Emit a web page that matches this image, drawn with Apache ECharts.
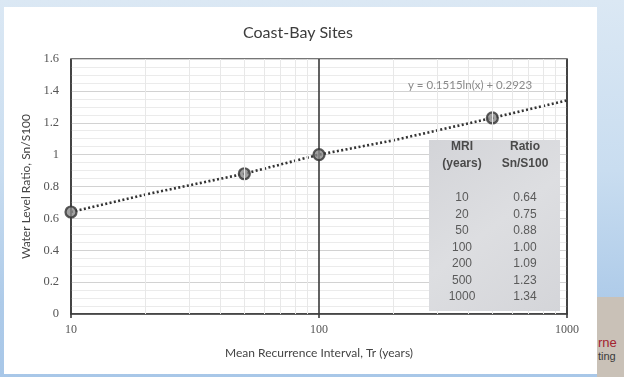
<!DOCTYPE html>
<html>
<head>
<meta charset="utf-8">
<script src="https://cdn.jsdelivr.net/npm/echarts@6/dist/echarts.min.js"></script>
<style>
  html, body { margin: 0; padding: 0; }
  body {
    width: 624px; height: 377px; overflow: hidden; position: relative;
    background: linear-gradient(to bottom, #dbe8f4 0%, #c9ddf0 45%, #aecbe9 80%, #a8c7e8 100%);
  }
  #panel { position: absolute; left: 4px; top: 7px; width: 593px; height: 367px; background: #ffffff; }
  #logo { position: absolute; left: 597px; top: 297px; width: 27px; height: 80px; background: #c9c1b7; overflow: hidden; }
  #logo .a { position: absolute; left: 1px; top: 38px; font: 13px "Liberation Sans", sans-serif; color: #a3232f; white-space: nowrap; }
  #logo .b { position: absolute; left: 1px; top: 53px; font: 11px "Liberation Sans", sans-serif; color: #3a3a3a; white-space: nowrap; }
  #chart { position: absolute; left: 0; top: 0; width: 624px; height: 377px; }
</style>
</head>
<body>
<div id="panel"></div>
<div id="logo"><span class="a">rne</span><span class="b">ting</span></div>
<div id="chart"></div>
<script>
// Return period table (years) and ratio Sn/S100
const mriYears = [10, 20, 50, 100, 200, 500, 1000];
const ratios = [0.64, 0.75, 0.88, 1.00, 1.09, 1.23, 1.34];

// Sites plotted as markers
const siteYears = [10, 50, 100, 500];
const siteRatios = [0.64, 0.88, 1.00, 1.23];

// Log-scale minor grid positions
const minorGridYears = [20, 30, 40, 50, 60, 70, 80, 90, 200, 300, 400, 500, 600, 700, 800, 900];

const chartTitle = 'Coast-Bay Sites';
const xName = 'Mean Recurrence Interval, Tr (years)';
const yName = 'Water Level Ratio, Sn/S100';
const fitLabel = 'y = 0.1515ln(x) + 0.2923';
const tableHeadLeft = ['MRI', '(years)'];
const tableHeadRight = ['Ratio', 'Sn/S100'];

const chart = echarts.init(document.getElementById('chart'), null, { renderer: 'canvas' });

const sansFont = 'Lato, "Open Sans", sans-serif';
const serifFont = '"Liberation Serif", serif';
const tableFont = '"Liberation Sans", Arial, sans-serif';
const TOP_Z = 100;

// Table overlay
const tableX = 429, tableY = 140, tableW = 131, tableH = 171;
const colL = tableX + 33, colR = tableX + 96;
const tableChildren = [{
  type: 'rect', z: TOP_Z,
  shape: { x: tableX, y: tableY, width: tableW, height: tableH },
  style: {
    fill: new echarts.graphic.LinearGradient(0, 0, 1, 1, [
      { offset: 0, color: '#d3d4d8' },
      { offset: 0.5, color: '#dddee1' },
      { offset: 1, color: '#d4d5d9' }
    ])
  }
}];
[tableHeadLeft, tableHeadRight].forEach(function (lines, c) {
  lines.forEach(function (t, r) {
    tableChildren.push({
      type: 'text', z: TOP_Z + 1,
      style: {
        x: c === 0 ? colL : colR, y: tableY + 7 + r * 17,
        text: t, align: 'center', verticalAlign: 'middle',
        font: 'bold 12px ' + tableFont, fill: '#4a4a4a'
      }
    });
  });
});
mriYears.forEach(function (yr, i) {
  const y = tableY + 58 + i * 16.5;
  tableChildren.push({
    type: 'text', z: TOP_Z + 1,
    style: { x: colL, y: y, text: String(yr), align: 'center', verticalAlign: 'middle',
      font: '12px ' + tableFont, fill: '#5a5a5a' }
  });
  tableChildren.push({
    type: 'text', z: TOP_Z + 1,
    style: { x: colR, y: y, text: ratios[i].toFixed(2), align: 'center', verticalAlign: 'middle',
      font: '12px ' + tableFont, fill: '#5a5a5a' }
  });
});

const option = {
  backgroundColor: 'transparent',
  animation: false,
  title: {
    text: chartTitle,
    left: 238, top: 20,
    textStyle: { fontFamily: sansFont, fontSize: 16, fontWeight: 'normal', color: '#3c3c3c' }
  },
  grid: {
    left: 71, top: 59, right: 57, bottom: 63,
    show: true, borderColor: '#4a4a4a', borderWidth: 1.6, backgroundColor: 'transparent'
  },
  xAxis: {
    type: 'log', logBase: 10, min: 10, max: 1000,
    name: xName, nameLocation: 'middle', nameGap: 33,
    nameTextStyle: { fontFamily: sansFont, fontSize: 12, color: '#444444' },
    axisLine: { show: true, lineStyle: { color: '#3a3a3a', width: 1.6 } },
    axisTick: { show: true, length: 4, lineStyle: { color: '#3a3a3a', width: 1.6 } },
    axisLabel: {
      margin: 10, fontFamily: serifFont, fontSize: 12, color: '#555555',
      formatter: function (v) { return String(Math.round(v)); }
    },
    splitLine: { show: true, lineStyle: { color: '#3a3a3a', width: 1.6 } }
  },
  yAxis: {
    type: 'value', min: 0, max: 1.6, interval: 0.2,
    name: yName, nameLocation: 'middle', nameGap: 31, nameRotate: 90,
    nameTextStyle: { fontFamily: sansFont, fontSize: 12, color: '#444444' },
    axisLine: { show: false },
    axisTick: { show: false },
    axisLabel: { margin: 12, fontFamily: serifFont, fontSize: 12.5, color: '#555555' },
    splitLine: { show: true, lineStyle: { color: '#d2d2d2', width: 1 } },
    minorTick: { show: false, splitNumber: 4 },
    minorSplitLine: { show: true, lineStyle: { color: '#ebebeb', width: 1 } }
  },
  graphic: [
    {
      type: 'text', z: TOP_Z,
      style: { x: 408, y: 85, text: fitLabel, verticalAlign: 'middle',
        font: '11.5px ' + sansFont, fill: '#8a8a8a' }
    },
    { type: 'group', z: TOP_Z, children: tableChildren }
  ],
  series: [
    {
      type: 'line', data: [], silent: true, z: 1,
      markLine: {
        silent: true, symbol: 'none', label: { show: false },
        lineStyle: { color: '#e8e8e8', width: 1, type: 'solid' },
        data: minorGridYears.map(function (v) { return { xAxis: v }; })
      }
    },
    {
      type: 'line', z: 3,
      data: mriYears.map(function (x, i) { return [x, ratios[i]]; }),
      symbol: 'none', smooth: false,
      lineStyle: { color: '#333333', width: 2.6, type: [2, 2.4] }
    },
    {
      type: 'scatter', z: 4,
      data: siteYears.map(function (x, i) { return [x, siteRatios[i]]; }),
      symbol: 'circle', symbolSize: 11,
      itemStyle: { color: '#8a8a8a', borderColor: '#333333', borderWidth: 2.2 }
    }
  ]
};
chart.setOption(option);
</script>
</body>
</html>
